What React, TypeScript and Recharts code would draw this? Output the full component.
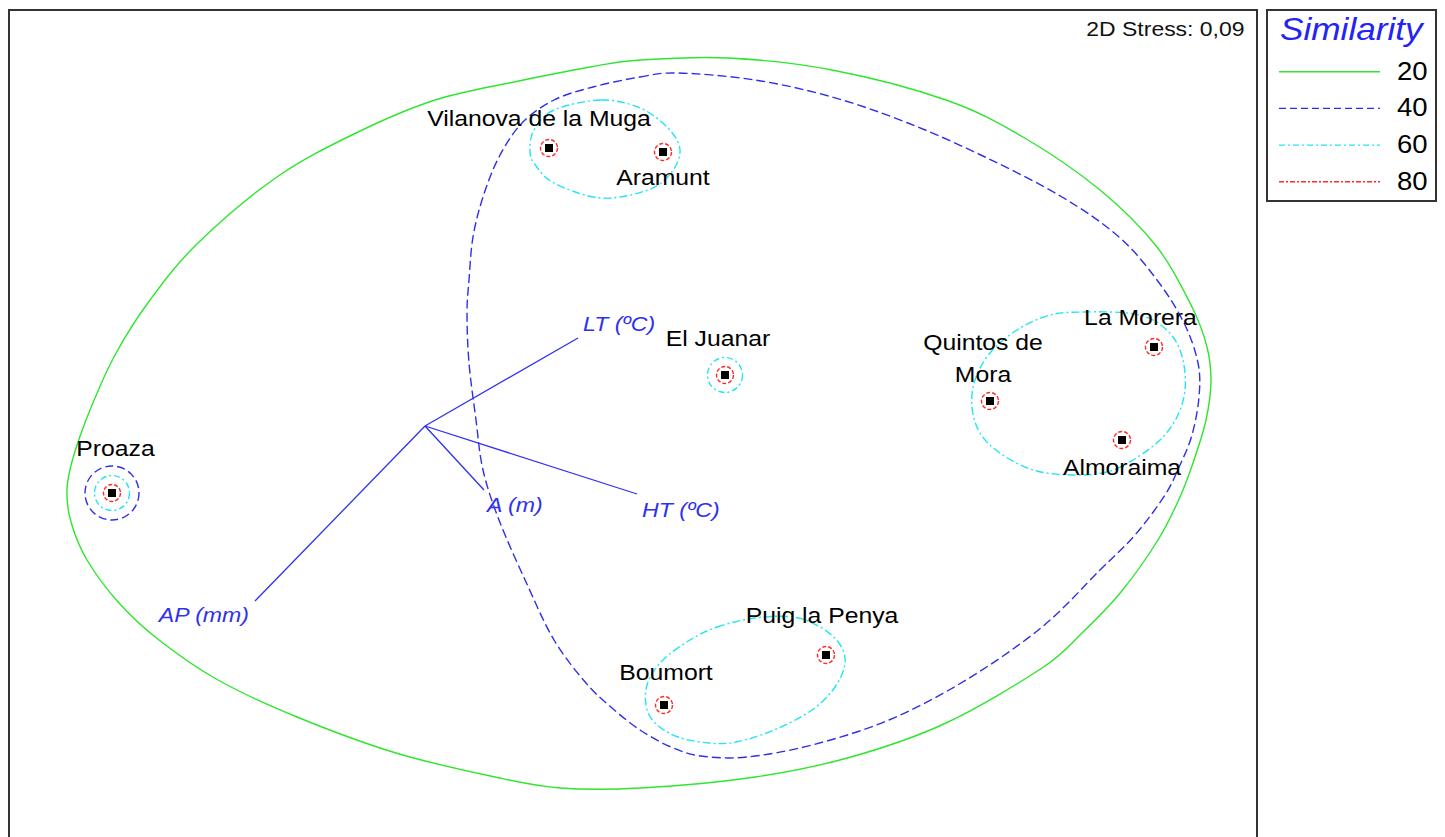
import React from 'react';
import { ScatterChart, Scatter, XAxis, YAxis, ReferenceArea, Legend } from 'recharts';

const FONT = "'Liberation Sans', Arial, Helvetica, sans-serif";

// ---- Site ordination scores (plot units) ----
const siteNames = ['Proaza', 'Vilanova de la Muga', 'Aramunt', 'El Juanar', 'Quintos de Mora', 'La Morera', 'Almoraima', 'Puig la Penya', 'Boumort'];
const siteX = [112, 549, 663, 725, 990, 1154, 1122, 826, 664];
const siteY = [493, 148, 152, 375, 401, 347, 440, 655, 705];
// similarity levels at which each site stands alone (drawn as rings)
const siteAloneLevels = [[40, 60, 80], [80], [80], [60, 80], [80], [80], [80], [80], [80]];
const siteLabelLines = [['Proaza'], ['Vilanova de la Muga'], ['Aramunt'], ['El Juanar'], ['Quintos de', 'Mora'], ['La Morera'], ['Almoraima'], ['Puig la Penya'], ['Boumort']];

// ---- Environmental vectors ----
const vectorNames = ['LT (ºC)', 'HT (ºC)', 'A (m)', 'AP (mm)'];
const vectorOriginX = 425;
const vectorOriginY = 426;
const vectorEndX = [578, 637, 484, 255];
const vectorEndY = [338, 494, 490, 601];

// ---- Similarity contours ----
const contour20: [number, number][] = [
  [640, 60], [728, 58], [832, 70], [946, 100], [1023, 137], [1100, 190], [1157, 247], [1192, 307], [1207, 347], [1211, 382],
  [1206, 420], [1194, 460], [1180, 497], [1158, 540], [1121, 592], [1082, 633], [1042, 668], [946, 723], [851, 757], [755, 777],
  [640, 788], [560, 788], [495, 777], [396, 753], [297, 717], [218, 680], [159, 640], [119, 603], [87, 560], [71, 522],
  [67, 490], [73, 458], [90, 410], [115, 355], [150, 300], [198, 243], [277, 177], [356, 133], [435, 100],
  [514, 82], [590, 67],
];
const contour40: [number, number][] = [
  [640, 77], [678, 73], [755, 80], [832, 97], [908, 123], [985, 157], [1062, 197], [1119, 237], [1157, 280], [1184, 323],
  [1198, 363], [1199, 397], [1192, 435], [1180, 465], [1165, 495], [1135, 535], [1100, 570], [1042, 627], [966, 680], [889, 720],
  [812, 745], [747, 757], [701, 756], [671, 747], [640, 730], [612, 708], [586, 683], [554, 640], [526, 582], [499, 520],
  [483, 470], [476, 420], [469, 363], [467, 313], [469, 280], [473, 237], [483, 197], [499, 157], [522, 123], [554, 100], [593, 87],
];
const contour60North: [number, number][] = [
  [601, 100], [640, 108], [668, 128], [680, 150], [671, 173], [648, 190], [601, 198], [554, 183], [534, 163], [530, 150], [534, 130], [554, 110],
];
const contour60East: [number, number][] = [
  [1083, 312], [1127, 313], [1153, 320], [1173, 337], [1183, 360], [1185, 390], [1177, 417], [1160, 440], [1133, 460], [1107, 472],
  [1073, 475], [1033, 470], [1000, 453], [980, 433], [972, 407], [975, 380], [990, 353], [1017, 330], [1050, 315],
];
const contour60South: [number, number][] = [
  [717, 627], [755, 618], [793, 617], [820, 627], [839, 643], [845, 663], [835, 687], [812, 710], [774, 730], [736, 742],
  [709, 743], [678, 737], [655, 723], [646, 705], [648, 682], [663, 660], [690, 640],
];

const legendLevels = [20, 40, 60, 80];
const stressText = '2D Stress: 0,09';

// ---- Styles ----
const levelStyle: Record<number, { stroke: string; dash?: string; width: number }> = {
  20: { stroke: '#2ee62e', width: 1.4 },
  40: { stroke: '#2f2fea', dash: '9 4', width: 1.4 },
  60: { stroke: '#1fe6ef', dash: '8 3 2 3', width: 1.4 },
  80: { stroke: '#ff2a2a', dash: '4 2', width: 1.3 },
};
const ringRadius: Record<number, number> = { 80: 8.5, 60: 17.5, 40: 27 };
const labelOffset: Record<string, [number, number]> = {
  'Proaza': [3.5, -37],
  'Vilanova de la Muga': [-10, -22],
  'Aramunt': [0, 33],
  'El Juanar': [-7, -29],
  'Quintos de Mora': [-7, -51],
  'La Morera': [-13.5, -22],
  'Almoraima': [0, 35],
  'Puig la Penya': [-4, -32],
  'Boumort': [2, -25],
};
const vectorLabelOffset: Record<string, [number, number, 'start' | 'end']> = {
  'LT (ºC)': [5, -7, 'start'],
  'HT (ºC)': [5, 23, 'start'],
  'A (m)': [3, 22, 'start'],
  'AP (mm)': [-6, 21, 'end'],
};
const VECTOR_COLOR = '#3030f0';
const TEXT_SCALE = 1.1;

const siteData = siteNames.map((name, i) => ({
  name, x: siteX[i], y: siteY[i], alone: siteAloneLevels[i], lines: siteLabelLines[i],
}));
const toPts = (arr: [number, number][]) => arr.map(([x, y]) => ({ x, y }));
const contours = [
  { level: 20, pts: toPts(contour20) },
  { level: 40, pts: toPts(contour40) },
  { level: 60, pts: toPts(contour60North) },
  { level: 60, pts: toPts(contour60East) },
  { level: 60, pts: toPts(contour60South) },
];
const vectors = vectorNames.map((name, i) => ([
  { x: vectorOriginX, y: vectorOriginY, label: null as string | null },
  { x: vectorEndX[i], y: vectorEndY[i], label: name },
]));

function closedCurve(points: { x: number; y: number }[]) {
  const n = points.length;
  if (!n) return '';
  let d = `M${points[0].x},${points[0].y}`;
  for (let i = 0; i < n; i++) {
    const p0 = points[(i - 1 + n) % n];
    const p1 = points[i];
    const p2 = points[(i + 1) % n];
    const p3 = points[(i + 2) % n];
    const c1x = p1.x + (p2.x - p0.x) / 6;
    const c1y = p1.y + (p2.y - p0.y) / 6;
    const c2x = p2.x - (p3.x - p1.x) / 6;
    const c2y = p2.y - (p3.y - p1.y) / 6;
    d += ` C${c1x},${c1y} ${c2x},${c2y} ${p2.x},${p2.y}`;
  }
  return d + 'Z';
}

const Empty = () => <g />;

const SiteShape = (props: any) => {
  const { cx, cy, payload } = props;
  if (cx == null || cy == null) return <g />;
  const [dx, dy] = labelOffset[payload.name] || [0, -20];
  return (
    <g>
      {payload.alone.map((lvl: number) => (
        <circle key={lvl} cx={cx} cy={cy} r={ringRadius[lvl]} fill="none"
          stroke={levelStyle[lvl].stroke} strokeWidth={1.4} strokeDasharray={lvl === 80 ? '4 2' : lvl === 60 ? '6 3 2 3' : '8 4'} />
      ))}
      <rect x={cx - 4} y={cy - 4} width={8} height={8} fill="#000" />
      {payload.lines.map((ln: string, k: number) => (
        <text key={k} transform={`translate(${cx + dx} ${cy + dy + k * 32}) scale(${TEXT_SCALE} 1)`}
          textAnchor="middle" fontFamily={FONT} fontSize={22.5} fill="#000">{ln}</text>
      ))}
    </g>
  );
};

const VectorEnd = (props: any) => {
  const { cx, cy, payload } = props;
  if (!payload || !payload.label) return <g />;
  const [dx, dy, anchor] = vectorLabelOffset[payload.label];
  return (
    <text transform={`translate(${cx + dx} ${cy + dy}) scale(${TEXT_SCALE} 1)`} textAnchor={anchor}
      fontFamily={FONT} fontStyle="italic" fontSize={21} fill={VECTOR_COLOR}>{payload.label}</text>
  );
};

const StressLabel = (props: any) => {
  const vb = props.viewBox || {};
  const x = (vb.x || 0) + (vb.width || 0) - 12.5;
  const y = (vb.y || 0) + 26;
  return (
    <text transform={`translate(${x} ${y}) scale(1.12 1)`} textAnchor="end" fontFamily={FONT} fontSize={20.5} fill="#111">
      {stressText}
    </text>
  );
};

const LegendBox = () => (
  <svg width={171} height={193} style={{ display: 'block' }}>
    <rect x={1} y={1} width={169} height={191} fill="#fff" stroke="#333" strokeWidth={2} />
    <text transform={`translate(14 30.5) scale(1.1 1)`} fontFamily={FONT} fontStyle="italic" fontSize={32} fill="#2323f5">Similarity</text>
    {legendLevels.map((lvl, i) => {
      const ly = 62.7 + i * 36.7;
      const st = levelStyle[lvl];
      return (
        <g key={lvl}>
          <line x1={13} x2={114} y1={ly} y2={ly} stroke={st.stroke} strokeWidth={1.4}
            strokeDasharray={lvl === 40 ? '7 4' : lvl === 60 ? '6 3 2 3' : lvl === 80 ? '5 2 2 2' : undefined} />
          <text transform={`translate(161.5 ${ly + 6.8 + 1}) scale(1.1 1)`} textAnchor="end" fontFamily={FONT} fontSize={25} fill="#000">{lvl}</text>
        </g>
      );
    })}
  </svg>
);

export default function App() {
  return (
    <div style={{ width: 1432, height: 829, overflow: 'hidden', position: 'relative', background: '#fff' }}>
      <ScatterChart width={1432} height={870} margin={{ top: 2, right: 183, bottom: 0, left: 1 }}>
        <XAxis type="number" dataKey="x" domain={[9, 1257]} hide allowDataOverflow />
        <YAxis type="number" dataKey="y" domain={[10, 878]} reversed hide allowDataOverflow />
        <ReferenceArea x1={9} x2={1257} y1={10} y2={878} fill="none" fillOpacity={0} stroke="#333" strokeWidth={2}
          ifOverflow="visible" label={<StressLabel />} />
        {contours.map((c, i) => {
          const st = levelStyle[c.level];
          return (
            <Scatter key={`c${i}`} data={c.pts} shape={Empty} isAnimationActive={false} legendType="none"
              line={(p: any) => (
                <path d={closedCurve(p.points)} fill="none" stroke={st.stroke} strokeWidth={st.width}
                  strokeDasharray={st.dash} />
              )} />
          );
        })}
        {vectors.map((v, i) => (
          <Scatter key={`v${i}`} data={v} shape={VectorEnd} isAnimationActive={false} legendType="none"
            fill={VECTOR_COLOR} line={{ stroke: VECTOR_COLOR, strokeWidth: 1.3 }} />
        ))}
        <Scatter data={siteData} shape={SiteShape} isAnimationActive={false} legendType="none" />
        <Legend layout="horizontal" verticalAlign="middle" align="center" content={() => <LegendBox />}
          wrapperStyle={{ position: 'absolute', left: 1258, top: 1, width: 171, height: 193, margin: 0, padding: 0 }} />
      </ScatterChart>
    </div>
  );
}
